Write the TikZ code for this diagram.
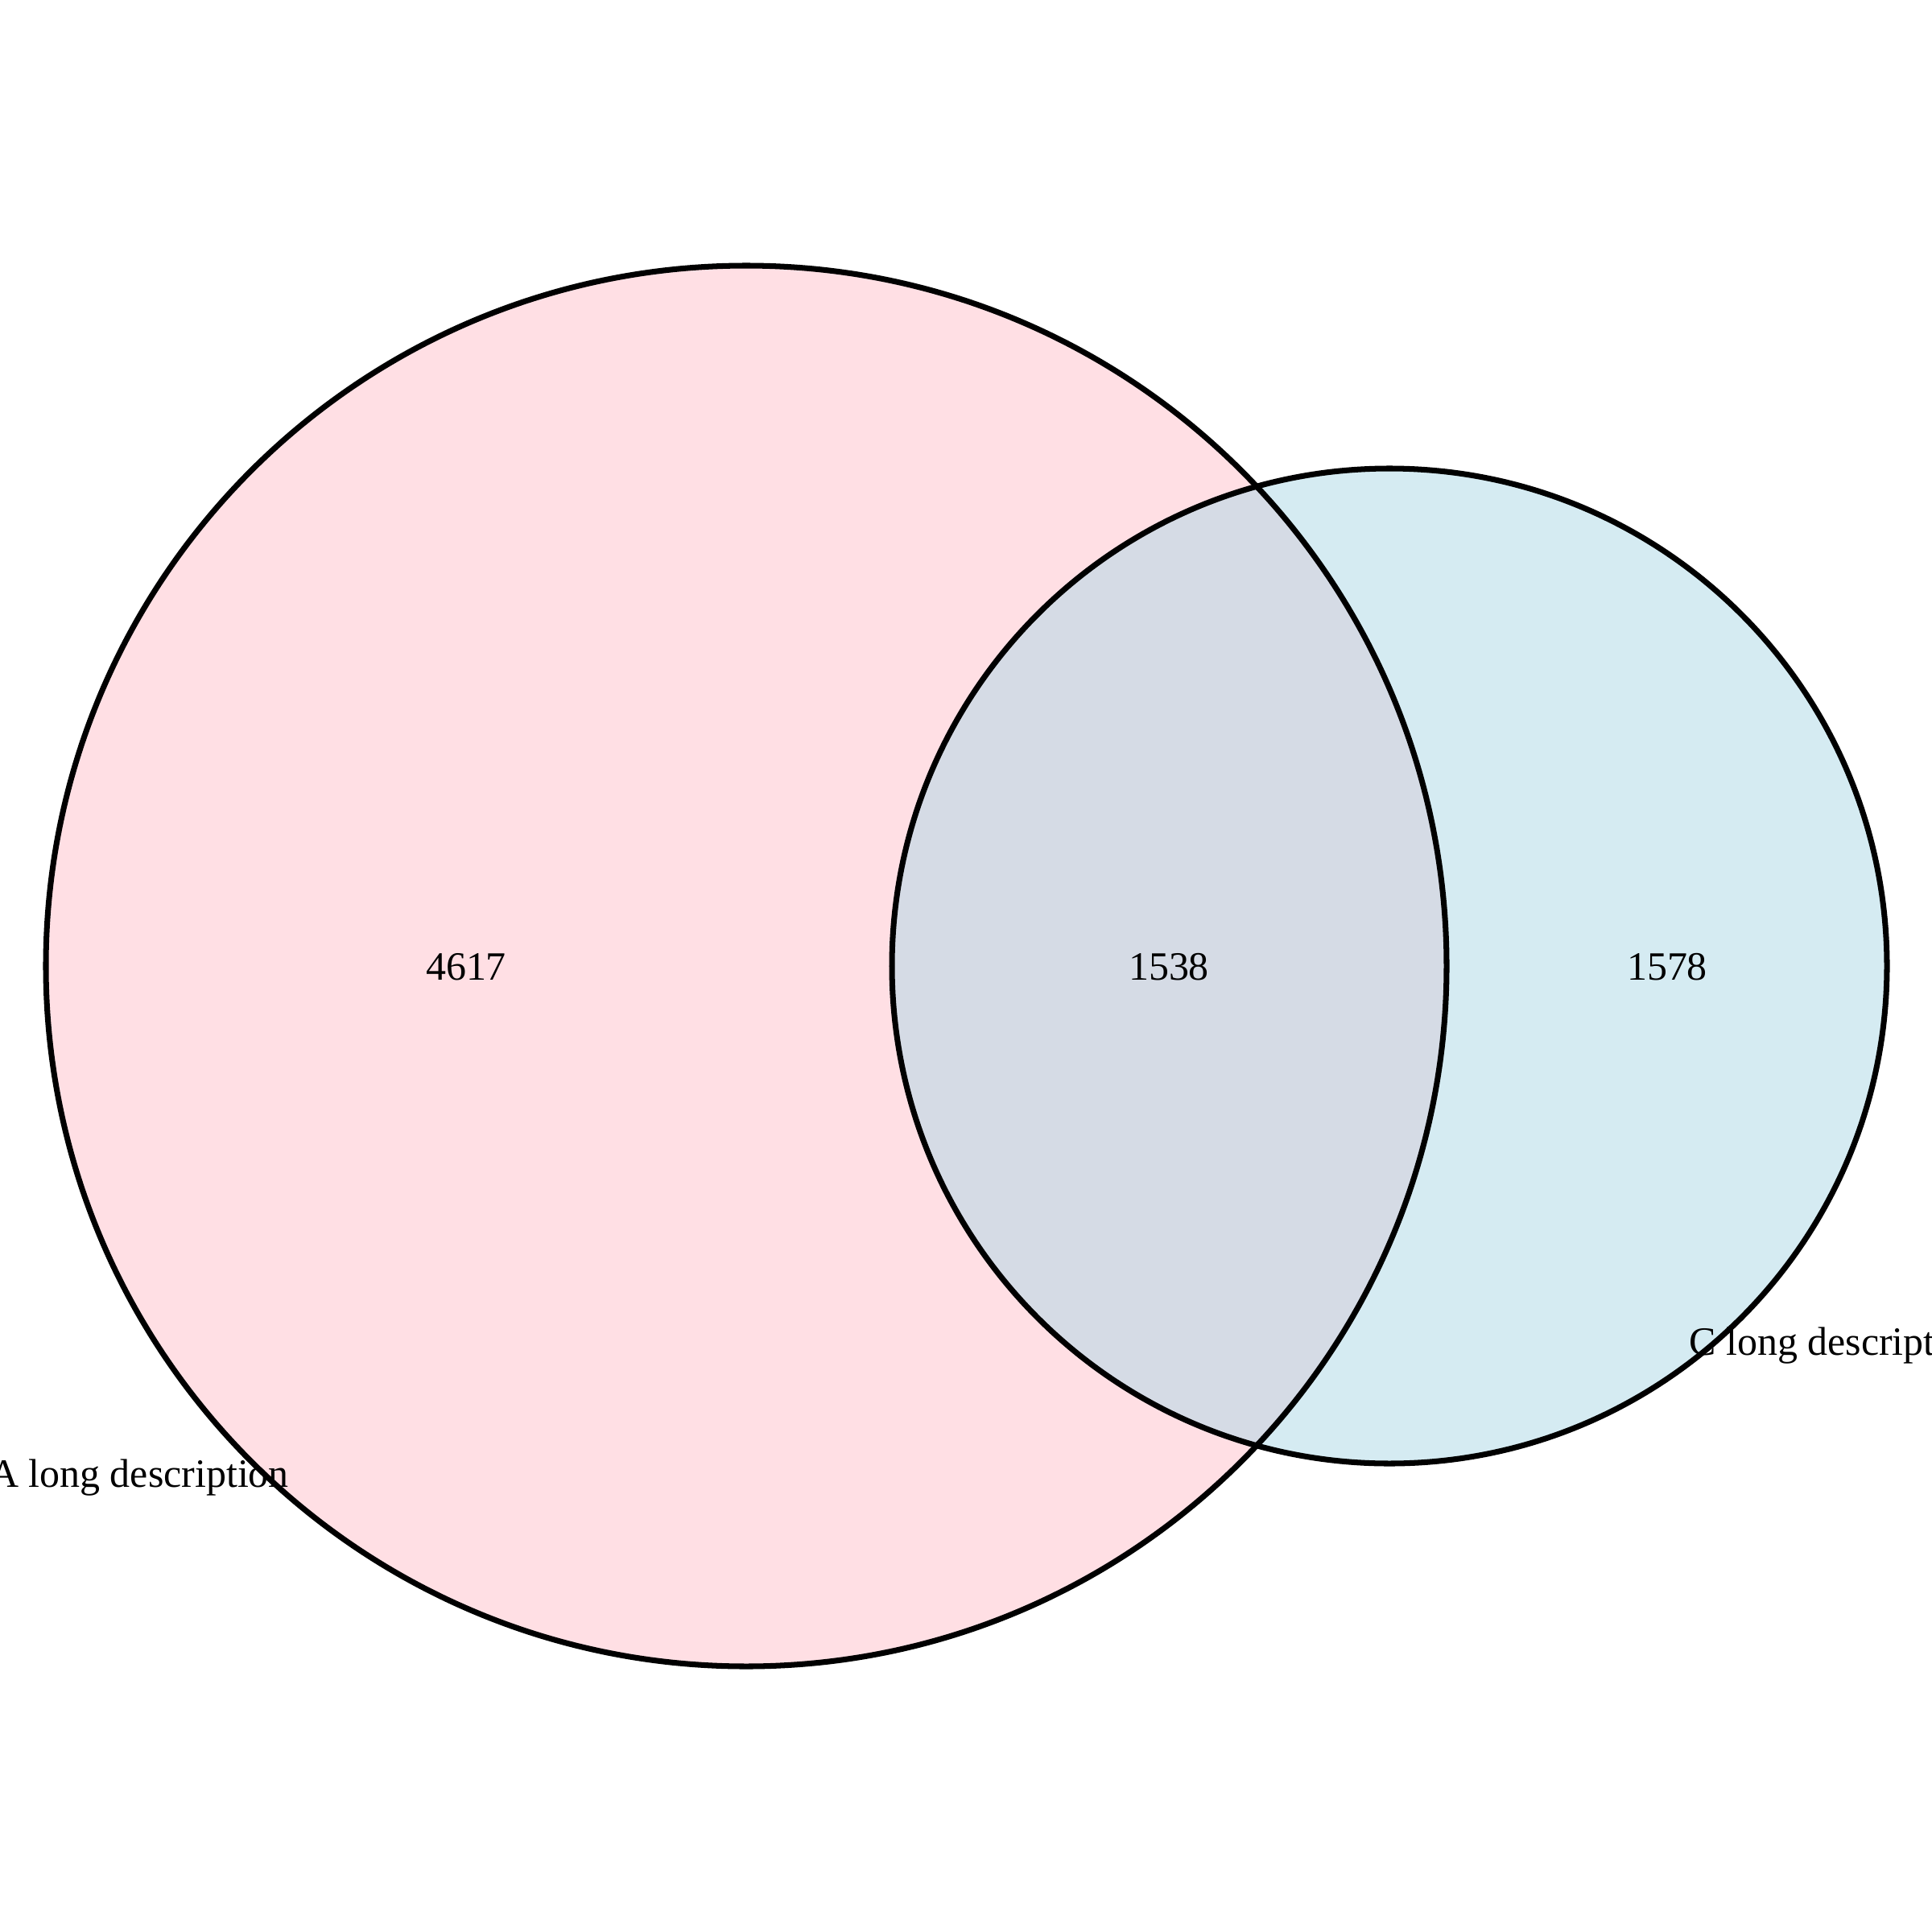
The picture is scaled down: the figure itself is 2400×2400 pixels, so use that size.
\documentclass[tikz,border=0pt]{standalone}
\usepackage{fontspec}
\setmainfont{Liberation Serif}
\definecolor{setA}{RGB}{255,192,203}
\definecolor{setC}{RGB}{173,216,230}
\begin{document}
\begin{tikzpicture}[x=0.01cm,y=-0.01cm,
  setfill/.style={fill opacity=0.5,draw=none},
  setline/.style={draw=black,line width=2pt},
  lbl/.style={font=\fontsize{14.2}{17}\selectfont,anchor=base,inner sep=0pt}]
\useasboundingbox (0,0) rectangle (2400,2400);
\fill[white] (0,0) rectangle (2400,2400);
\fill[setA,setfill] (927,1200) circle[radius=870];
\fill[setC,setfill] (1726,1200) circle[radius=618];
\draw[setline] (927,1200) circle[radius=870];
\draw[setline] (1726,1200) circle[radius=618];
\node[lbl] (nA) at (579,1217) {4617};
\node[lbl] (nAC) at (1452,1217) {1538};
\node[lbl] (nC) at (2071,1217) {1578};
\node[lbl] (labA) at (173,1847) {A long description};
\node[lbl] (labC) at (2283,1683) {C long description};
\end{tikzpicture}
\end{document}
